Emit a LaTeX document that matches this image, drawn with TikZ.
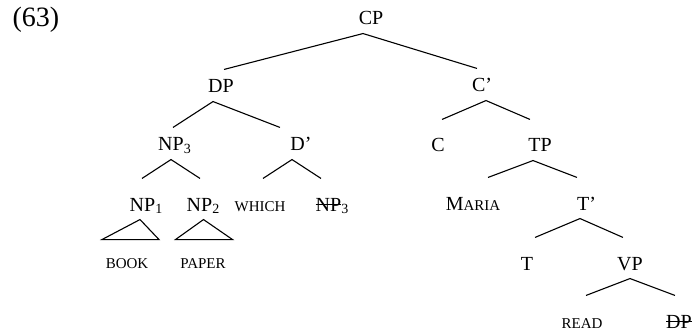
\documentclass[tikz,border=0pt]{standalone}
\usepackage{fontspec}
\setmainfont{Liberation Serif}
\newcommand{\smc}[1]{{\fontsize{7.5}{9}\selectfont #1}}
\newcommand{\strk}[1]{\setbox0\hbox{#1}\rlap{\rule[0.3em]{\wd0}{0.6pt}}\box0}
\begin{document}
\begin{tikzpicture}[x=0.5pt, y=-0.5pt, line width=0.55pt,
    cat/.style={anchor=base, inner xsep=0pt, inner ysep=4pt, text height=12pt, text depth=0pt, font=\fontsize{10}{12}\selectfont},
    hcat/.style={cat, text height=7.5pt}]
  \useasboundingbox (0,0) rectangle (694,331);
  \node[anchor=base west, inner sep=0pt, font=\fontsize{14}{16}\selectfont] (ex) at (12,27) {(63)};
  \node[cat] (cp) at (371,25) {CP};
  \node[hcat] (dp) at (221,93) {DP};
  \node[hcat] (cbar) at (482,92) {C’};
  \node[hcat] (np3) at (175,151) {NP\textsubscript{3}};
  \node[hcat] (dbar) at (301,151) {D’};
  \node[cat] (c) at (438,152) {C};
  \node[cat] (tp) at (540,152) {TP};
  \node[cat] (np1) at (146.5,211) {NP\textsubscript{1}};
  \node[cat] (np2) at (203.5,211) {NP\textsubscript{2}};
  \node[cat] (which) at (260,211) {\smc{WHICH}};
  \node[cat] (np3t) at (332.5,211) {\strk{NP}\textsubscript{3}};
  \node[cat] (maria) at (473,210) {M\smc{ARIA}};
  \node[cat] (tbar) at (586.5,210) {T’};
  \node[cat] (book) at (127,268) {\smc{BOOK}};
  \node[cat] (paper) at (203,268) {\smc{PAPER}};
  \node[cat] (t) at (527,270) {T};
  \node[cat] (vp) at (630,270) {VP};
  \node[cat] (read) at (582,328) {\smc{READ}};
  \node[cat] (dpt) at (679,328) {\strk{DP}};
  \draw ([xshift=1.5pt]dp.north) -- ([xshift=-4pt]cp.south) -- ([xshift=-2.5pt]cbar.north);
  \draw ([xshift=-1pt]np3.north) -- ([xshift=-4pt]dp.south) -- ([xshift=-10.5pt]dbar.north);
  \draw ([xshift=-2.25pt]np1.north) -- ([xshift=-2pt]np3.south) -- ([xshift=-1.75pt]np2.north);
  \draw ([xshift=1.5pt]which.north) -- ([xshift=-4.5pt]dbar.south) -- ([xshift=-5.75pt]np3t.north);
  \draw ([xshift=2pt]c.north) -- ([xshift=2pt]cbar.south) -- ([xshift=-5pt]tp.north);
  \draw ([xshift=7.5pt]maria.north) -- ([xshift=-3.5pt]tp.south) -- ([xshift=-4.75pt]tbar.north);
  \draw ([xshift=4pt]t.north) -- ([xshift=-3.25pt]tbar.south) -- ([xshift=-3.5pt]vp.north);
  \draw ([xshift=2pt]read.north) -- (vp.south) -- ([xshift=-2pt]dpt.north);
  \draw ([xshift=-3.25pt]np1.south) -- ++(-38,20) -- ++(57,0) -- cycle;
  \draw (np2.south) -- ++(-28,20) -- ++(57,0) -- cycle;
\end{tikzpicture}
\end{document}
